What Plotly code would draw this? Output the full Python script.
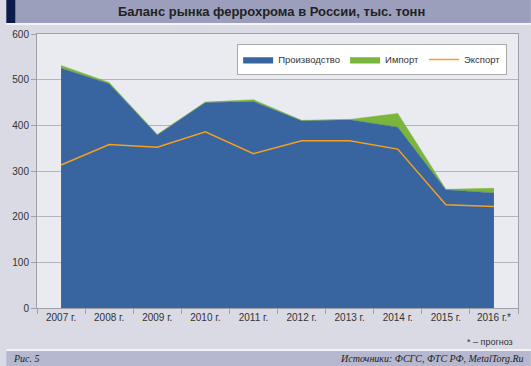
import plotly.graph_objects as go

years = ["2007 г.", "2008 г.", "2009 г.", "2010 г.", "2011 г.", "2012 г.",
         "2013 г.", "2014 г.", "2015 г.", "2016 г.*"]
production = [525, 491, 379, 450, 452, 410, 412, 396, 259, 252]
imports = [6, 3, 1, 1, 4, 1, 1, 30, 1, 10]
exports = [313, 358, 352, 386, 338, 366, 366, 348, 226, 222]

W, H = 531, 366
L, R, T, B = 31, 13, 34, 58
pw, ph = W - L - R, H - T - B

def px(x):
    return (x - L) / pw

def py(y):
    return (H - B - y) / ph

BLUE = "#38659f"
GREEN = "#7ab63c"
ORANGE = "#f5a11c"

fig = go.Figure()
fig.add_trace(go.Scatter(x=years, y=production, name="Производство", stackgroup="a",
                         mode="lines", line=dict(color=BLUE, width=0.5),
                         fillcolor=BLUE))
fig.add_trace(go.Scatter(x=years, y=imports, name="Импорт", stackgroup="a",
                         mode="lines", line=dict(color=GREEN, width=0.5),
                         fillcolor=GREEN))
fig.add_trace(go.Scatter(x=years, y=exports, name="Экспорт", mode="lines",
                         line=dict(color=ORANGE, width=1.5)))

font = "Liberation Sans, Arial, sans-serif"
serif = "Liberation Serif, DejaVu Serif, serif"

shapes = [
    # title bar
    dict(type="rect", xref="paper", yref="paper", x0=px(0), x1=px(W), y0=py(23), y1=py(0),
         fillcolor="#9b9fbc", line=dict(width=0), layer="below"),
    dict(type="rect", xref="paper", yref="paper", x0=px(0), x1=px(9), y0=py(23), y1=py(0),
         fillcolor="#0d1a4c", line=dict(width=0), layer="below"),
    dict(type="rect", xref="paper", yref="paper", x0=px(0), x1=px(W), y0=py(25), y1=py(23),
         fillcolor="#f4f4f8", line=dict(width=0), layer="below"),
    # bottom bar
    dict(type="rect", xref="paper", yref="paper", x0=px(0), x1=px(W), y0=py(H), y1=py(351),
         fillcolor="#b5b8ce", line=dict(width=0), layer="below"),
    dict(type="rect", xref="paper", yref="paper", x0=px(0), x1=px(W), y0=py(351), y1=py(349),
         fillcolor="#f4f4f8", line=dict(width=0), layer="below"),
]

annotations = [
    dict(text="<b>Баланс рынка феррохрома в России, тыс. тонн</b>", xref="paper", yref="paper",
         x=px(268), y=py(11.5), xanchor="center", yanchor="middle", showarrow=False,
         font=dict(family=font, size=13, color="#222222")),
    dict(text="* – прогноз", xref="paper", yref="paper", x=px(515), y=py(342),
         xanchor="right", yanchor="middle", showarrow=False,
         font=dict(family=font, size=9, color="#333333")),
    dict(text="<i>Рис. 5</i>", xref="paper", yref="paper", x=px(5), y=py(358.5),
         xanchor="left", yanchor="middle", showarrow=False,
         font=dict(family=serif, size=10, color="#222222")),
    dict(text="<i>Источники: ФСГС, ФТС РФ, MetalTorg.Ru</i>", xref="paper", yref="paper",
         x=px(526), y=py(358.5), xanchor="right", yanchor="middle", showarrow=False,
         font=dict(family=serif, size=10, color="#222222")),
]

fig.update_layout(
    width=W, height=H,
    margin=dict(l=L, r=R, t=T, b=B),
    paper_bgcolor="#d9dae4",
    plot_bgcolor="#eaebf1",
    font=dict(family=font, size=10, color="#333333"),
    showlegend=True,
    legend=dict(orientation="h", x=px(507), y=py(44), xanchor="right", yanchor="top",
                bgcolor="#ffffff", bordercolor="#aaaaaa", borderwidth=1,
                font=dict(family=font, size=9.5, color="#333333"),
                traceorder="normal", itemwidth=30),
    shapes=shapes,
    annotations=annotations,
    xaxis=dict(type="category", range=[-0.5, 9.5], showgrid=False,
               showline=True, linecolor="#a0a0a8", linewidth=1, mirror=True,
               ticks="outside", tickson="boundaries", ticklen=5, tickcolor="#a0a0a8",
               tickfont=dict(size=10, color="#333333")),
    yaxis=dict(range=[0, 600], dtick=100, showgrid=True, gridcolor="#b4b4bc", gridwidth=1,
               showline=True, linecolor="#a0a0a8", linewidth=1, mirror=True,
               ticks="outside", ticklen=5, tickcolor="#a0a0a8", zeroline=False,
               tickfont=dict(size=10, color="#333333")),
)

fig.write_html("out.html", config={"displayModeBar": False},
               post_script="document.body.style.margin='0';document.body.style.overflow='hidden';")
